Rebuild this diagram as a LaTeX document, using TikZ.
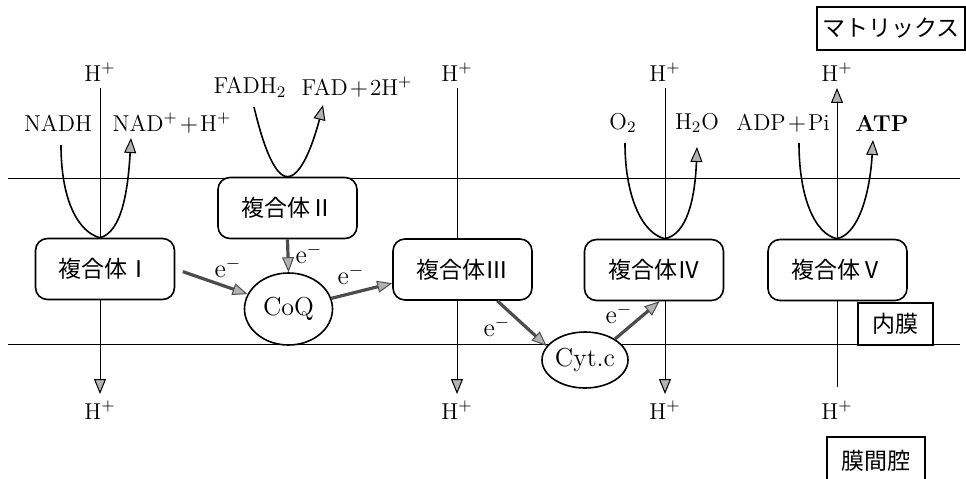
\documentclass[tikz,border=0pt]{standalone}
\usepackage{fontspec}
\newfontfamily\cjk{Noto Sans CJK JP}
\usetikzlibrary{arrows.meta, positioning, shapes.geometric, backgrounds}

\begin{document}
\begin{tikzpicture}[
    x=0.5pt, y=-0.5pt,
    cplx/.style={draw, rectangle, rounded corners=6pt, fill=white, minimum width=69.5pt, minimum height=30.5pt, inner sep=0pt, font=\fontsize{11.5}{14}\cjk},
    carrier/.style={draw, ellipse, fill=white, inner sep=0pt, font=\fontsize{13}{15}\selectfont},
    tag/.style={draw, rectangle, fill=white, inner sep=0pt, font=\fontsize{11.5}{14}\cjk},
    lbl/.style={inner sep=3pt, font=\fontsize{11.5}{14}\selectfont},
    elbl/.style={inner sep=1pt, font=\fontsize{13}{15}\selectfont},
    tip/.style={-{Triangle[fill=gray!60, length=7.5pt, width=6pt, line width=0.5pt]}},
    eflow/.style={tip, line width=1.6pt, draw=black!70},
    line width=0.8pt,
]
    \useasboundingbox (0,0) rectangle (966,478);

    % H+ labels
    \node[lbl] (h1t) at (100,72)  {H$^+$};
    \node[lbl] (h3t) at (457,72)  {H$^+$};
    \node[lbl] (h4t) at (665,72)  {H$^+$};
    \node[lbl] (h5t) at (837,72)  {H$^+$};
    \node[lbl] (h1b) at (100,410) {H$^+$};
    \node[lbl] (h3b) at (457,410) {H$^+$};
    \node[lbl] (h4b) at (665,410) {H$^+$};
    \node[lbl] (h5b) at (837,410) {H$^+$};

    % substrates and products
    \node[lbl] (nadh) at (58,123)  {NADH};
    \node[lbl] (nad)  at (172,123) {NAD$^+$\kern1pt$+$\kern1pt H$^+$};
    \node[lbl] (fadh) at (250,87)  {FADH$_2$};
    \node[lbl] (fad)  at (357,87)  {FAD\kern1pt$+$\kern1pt 2H$^+$};
    \node[lbl] (o2)   at (623,123) {O$_2$};
    \node[lbl] (h2o)  at (697,123) {H$_2$O};
    \node[lbl] (adp)  at (783,123) {ADP\kern1pt$+$\kern1pt Pi};
    \node[lbl] (atp)  at (882,123) {\textbf{ATP}};

    % complexes and carriers
    \node[cplx] (b1) at (105,269)   {複合体Ⅰ};
    \node[cplx] (b2) at (287.5,208) {複合体Ⅱ};
    \node[cplx] (b3) at (462.5,269.5) {複合体Ⅲ};
    \node[cplx] (b4) at (654,270)   {複合体Ⅳ};
    \node[cplx] (b5) at (837.5,270) {複合体Ⅴ};
    \node[carrier, minimum width=44pt, minimum height=36pt] (coq)  at (288.5,309) {CoQ};
    \node[carrier, minimum width=43pt, minimum height=28pt] (cytc) at (585,360)   {Cyt.c};

    % region tags
    \node[tag, minimum width=74pt, minimum height=21.5pt] (matrix) at (891,28.5) {マトリックス};
    \node[tag, minimum width=37.5pt, minimum height=21pt] (inner)  at (895.5,324) {内膜};
    \node[tag, minimum width=49pt, minimum height=24pt]   (space)  at (876,461)   {膜間腔};

    % membrane and proton paths
    \begin{scope}[on background layer]
        \draw (8,178) -- (960,178);
        \draw (8,344) -- (960,344);
        \draw[tip] (h1t.south) -- (h1b.north);
        \draw[tip] (h3t.south) -- (h3b.north);
        \draw[tip] (h4t.south) -- (h4b.north);
        \draw[tip, shorten <=3.5pt] (h5b.north) -- (h5t.south);
    \end{scope}

    % reaction curves
    \coordinate (k1) at (h1t |- b1.north);
    \coordinate (k2) at (b2.north);
    \coordinate (k4) at (h4t |- b4.north);
    \coordinate (k5) at (h5t |- b5.north);
    \coordinate (nadh-in) at (61,145);
    \coordinate (nad-out) at (131,138);
    \coordinate (fadh-in) at (254,107);
    \coordinate (fad-out) at (323,105);
    \coordinate (o2-in)   at (625,143);
    \coordinate (h2o-out) at (697,147);
    \coordinate (adp-in)  at (799,143);
    \coordinate (atp-out) at (873,140);
    \draw[tip] (nadh-in) .. controls (61,200) and (78,232) .. (k1)
        .. controls (122,232) and (128,190) .. (nad-out);
    \draw[tip] (fadh-in) parabola bend (k2) (fad-out);
    \draw[tip] (o2-in) .. controls (625,198) and (643,234) .. (k4)
        .. controls (687,234) and (695,199) .. (h2o-out);
    \draw[tip] (adp-in) .. controls (799,198) and (815,234) .. (k5)
        .. controls (859,234) and (870,192) .. (atp-out);

    % electron flow
    \draw[eflow, shorten <=4pt] (b1.east) -- (coq.160);
    \draw[eflow] (b2.south) -- (coq.north);
    \draw[eflow] (coq.14) -- (b3.191);
    \draw[eflow] (b3.-42) -- (cytc.160);
    \draw[eflow] (cytc.35) -- (b4.-80);
    \node[elbl] (e1) at (228,268) {e$^-$};
    \node[elbl] (e2) at (309,254) {e$^-$};
    \node[elbl] (e3) at (351,275) {e$^-$};
    \node[elbl] (e4) at (497,327) {e$^-$};
    \node[elbl] (e5) at (619,314) {e$^-$};
\end{tikzpicture}
\end{document}
